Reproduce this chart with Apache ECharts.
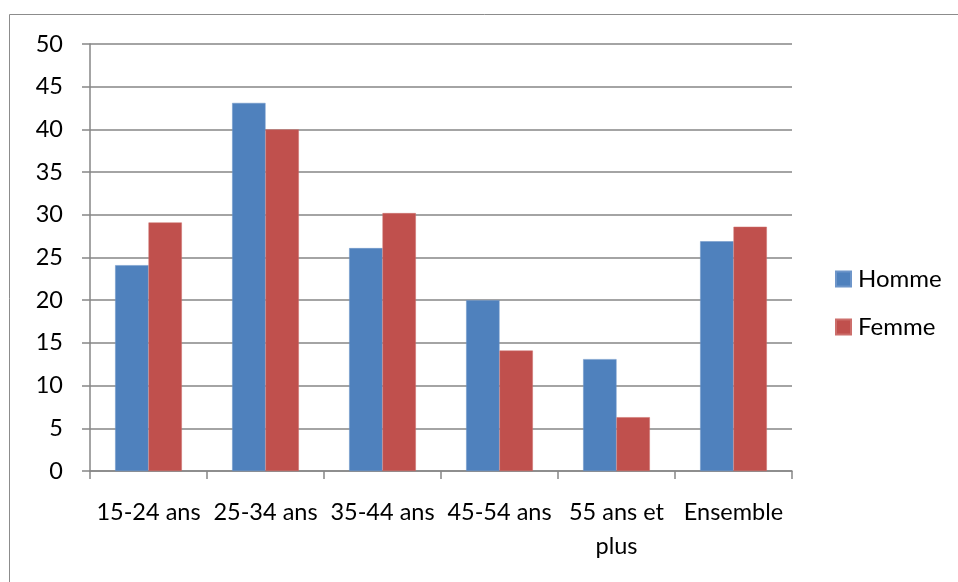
<!DOCTYPE html>
<html>
<head>
<meta charset="utf-8">
<script src="https://cdn.jsdelivr.net/npm/echarts@6/dist/echarts.min.js"></script>
<style>
html,body{margin:0;padding:0;background:#fff;}
#chart{width:958px;height:582px;}
</style>
</head>
<body>
<div id="chart"></div>
<script>
const categories = ['15-24 ans', '25-34 ans', '35-44 ans', '45-54 ans', '55 ans et plus', 'Ensemble'];
const seriesNames = ['Homme', 'Femme'];
const homme = [24.1, 43.1, 26.1, 20.0, 13.1, 26.9];
const femme = [29.1, 40.0, 30.2, 14.1, 6.3, 28.6];
const yTicks = [0, 5, 10, 15, 20, 25, 30, 35, 40, 45, 50];

const FONT = 'Lato';
const chart = echarts.init(document.getElementById('chart'), null, {renderer: 'canvas'});
chart.setOption({
  animation: false,
  backgroundColor: '#ffffff',
  textStyle: {fontFamily: FONT, color: '#000'},
  graphic: [{
    type: 'rect',
    shape: {x: 9.5, y: 14.5, width: 1000, height: 700},
    style: {fill: 'none', stroke: '#8c8c8c', lineWidth: 1},
    silent: true
  }],
  grid: {left: 90, right: 166, top: 44, bottom: 111, containLabel: false},
  legend: {
    orient: 'vertical',
    left: 835,
    top: 267,
    padding: 0,
    icon: 'rect',
    itemWidth: 15,
    itemHeight: 15,
    itemGap: 24,
    data: seriesNames,
    textStyle: {fontFamily: FONT, fontSize: 24, color: '#000', lineHeight: 24, padding: [0, 0, 0, 2]}
  },
  xAxis: {
    type: 'category',
    data: categories,
    axisLine: {show: true, lineStyle: {color: '#868686', width: 1.5}},
    axisTick: {show: true, alignWithLabel: false, length: 8, lineStyle: {color: '#868686', width: 1.5}},
    axisLabel: {
      interval: 0,
      margin: 24,
      fontFamily: FONT,
      fontSize: 23.5,
      lineHeight: 34,
      color: '#000',
      formatter: v => v.replace(' et plus', ' et\nplus')
    },
    splitLine: {show: false}
  },
  yAxis: {
    type: 'value',
    min: yTicks[0],
    max: yTicks[yTicks.length - 1],
    interval: 5,
    axisLine: {show: true, lineStyle: {color: '#868686', width: 1.5}},
    axisTick: {show: true, length: 8, lineStyle: {color: '#868686', width: 1.5}},
    axisLabel: {margin: 27, fontFamily: FONT, fontSize: 23.5, color: '#000'},
    splitLine: {show: true, lineStyle: {color: '#868686', width: 1.5}}
  },
  series: [
    {name: seriesNames[0], type: 'bar', data: homme, barGap: '0%', barCategoryGap: '43%',
     itemStyle: {color: '#4F81BD', borderColor: '#6d95c9', borderWidth: 0.5}},
    {name: seriesNames[1], type: 'bar', data: femme, barGap: '0%', barCategoryGap: '43%',
     itemStyle: {color: '#C0504D', borderColor: '#cc6e6b', borderWidth: 0.5}}
  ]
});
</script>
</body>
</html>
